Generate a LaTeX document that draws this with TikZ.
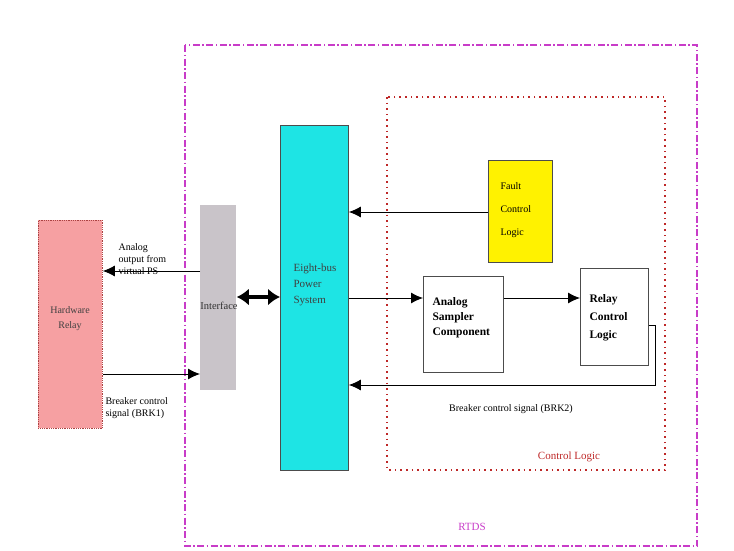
\documentclass[tikz,border=0pt]{standalone}
\usepackage{fontspec}
\setmainfont{Liberation Serif}
\usetikzlibrary{arrows.meta}

\definecolor{relaypink}{RGB}{246,160,162}
\definecolor{ifacegray}{RGB}{201,196,201}
\definecolor{buscyan}{RGB}{30,228,228}
\definecolor{rtdsmag}{RGB}{200,60,200}
\definecolor{ctrlred}{RGB}{190,40,40}

\tikzset{
  blockbox/.style={draw, line width=0.8pt, minimum width=#1, anchor=north west, inner sep=0pt},
  sig/.style={-{Latex[length=12pt,width=11pt]}, line width=0.9pt},
  smalltxt/.style={font=\fontsize{10}{12}\selectfont, align=left}
}

\begin{document}
\begin{tikzpicture}[x=1pt, y=-1pt, font=\fontsize{10}{12}\selectfont]
    \useasboundingbox (0,0) rectangle (734,550);

    % outer RTDS frame and inner control logic frame
    \draw[rtdsmag, line width=1.2pt, dash pattern=on 7pt off 2.5pt on 1.5pt off 2.5pt]
        (185,45) rectangle (697,546);
    \node[rtdsmag, font=\fontsize{11}{12}\selectfont] (rtds) at (472,527) {RTDS};
    \draw[ctrlred, line width=1.8pt, dash pattern=on 1.6pt off 4pt]
        (387,97) rectangle (665,470);
    \node[ctrlred, font=\fontsize{11}{12}\selectfont] (ctrl) at (569,457) {Control Logic};

    % blocks
    \node[blockbox=64pt, minimum height=208pt, fill=relaypink, draw=ctrlred!70!gray, densely dotted]
        (hw) at (38,220) {};
    \node[text=black!75, align=center] (hwtxt) at (70,319) {Hardware\\[3pt]Relay};

    \node[blockbox=36pt, minimum height=185pt, fill=ifacegray, draw=none] (iface) at (200,205) {};
    \node[text=black!80, font=\fontsize{10.5}{12}\selectfont] (ifacetxt) at (219,306) {Interface};

    \node[blockbox=68pt, minimum height=345pt, fill=buscyan, draw=black!70] (power) at (280,125) {};
    \node[anchor=west, align=left, text=black!75, font=\fontsize{11}{13}\selectfont] (powertxt)
        at (290,285) {Eight-bus\\[3pt]Power\\[3pt]System};

    \node[blockbox=64pt, minimum height=102pt, fill=yellow, draw=black!70] (fault) at (488,160) {};
    \node[anchor=west, align=left] (faulttxt) at (497,210) {Fault\\[11pt]Control\\[11pt]Logic};

    \node[blockbox=80pt, minimum height=96pt, fill=white, draw=black!70] (analog) at (423,276) {};
    \node[anchor=west, align=left, font=\fontsize{11.5}{13}\bfseries] (analogtxt) at (429,318)
        {Analog\\[2pt]Sampler\\[2pt]Component};

    \node[blockbox=68pt, minimum height=97pt, fill=white, draw=black!70] (rcl) at (580,268) {};
    \node[anchor=west, align=left, font=\fontsize{11.5}{13}\bfseries] (rcltxt) at (586,318)
        {Relay\\[5pt]Control\\[5pt]Logic};

    % connectors
    \draw[sig] (iface.west |- 0,271) -- (hw.east |- 0,271);
    \node[smalltxt, anchor=west] (aotxt) at (115,259) {Analog\\output from\\virtual PS};
    \draw[sig] (hw.east |- 0,374) -- (iface.west |- 0,374);
    \node[smalltxt, anchor=west] (brk1txt) at (102,408) {Breaker control\\signal (BRK1)};

    \draw[{Latex[length=12pt,width=17pt]}-{Latex[length=12pt,width=17pt]}, line width=4pt]
        (iface.east |- 0,297) -- (power.west |- 0,297);

    \draw[sig] (fault.west |- 0,212) -- (power.east |- 0,212);
    \draw[sig] (power.east |- 0,298) -- (analog.west |- 0,298);
    \draw[sig] (analog.east |- 0,298) -- (rcl.west |- 0,298);

    \coordinate (fbR) at (655,385);
    \draw[sig] (rcl.east |- 0,325) -| (fbR) -- (power.east |- fbR);
    \node (brk2txt) at (511,409) {Breaker control signal (BRK2)};
\end{tikzpicture}
\end{document}
